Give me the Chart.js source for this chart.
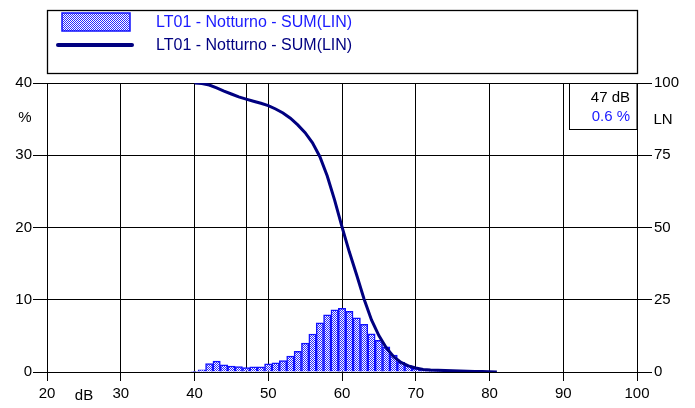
<!DOCTYPE html>
<html><head><meta charset="utf-8">
<script src="https://cdn.jsdelivr.net/npm/chart.js@4.4.0/dist/chart.umd.min.js"></script>
<style>html,body{margin:0;padding:0;background:#fff;overflow:hidden}#wrap{width:695px;height:408px;position:relative}</style>
</head><body><div id="wrap"><canvas id="c" width="695" height="408"></canvas></div>
<script>
// ---- data ----
const levelsDb = [40,41,42,43,44,45,46,47,48,49,50,51,52,53,54,55,56,57,58,59,60,61,62,63,64,65,66,67,68,69,70,71,72,73,74];
const distributionPct = [0.05,0.3,1.15,1.5,1.0,0.83,0.76,0.6,0.7,0.72,1.12,1.28,1.58,2.2,2.85,4.0,5.26,6.8,7.9,8.6,8.8,8.4,7.5,6.6,5.3,4.4,3.5,2.35,1.35,0.9,0.5,0.25,0.15,0.1,0.05];
const lnDb = [40,41,42,43,44,45,46,47,48,49,50,51,52,53,54,55,56,57,58,59,60,61,62,63,64,65,66,67,68,69,70,71,72,73,74,75,76,77,78,79,80,81];
const lnPct = [100,99.8,99.3,98.3,97.2,96.2,95.2,94.4,93.7,93.0,92.2,91.0,89.6,87.8,85.5,82.8,79.3,74.5,67.8,59.5,50.2,41.5,33.5,25.2,18.0,12.6,8.4,5.3,3.3,2.1,1.4,0.9,0.7,0.6,0.5,0.4,0.35,0.3,0.2,0.15,0.1,0];
const xTicks = [20,30,40,50,60,70,80,90,100];
const yTicks = [0,10,20,30,40];
const y2Ticks = [0,25,50,75,100];
const seriesLabel = 'LT01 - Notturno - SUM(LIN)';
const xUnit = 'dB', yUnit = '%', y2Unit = 'LN';
const cursorDb = 47;
const cursorPct = 0.6;

const FONT = 'Liberation Sans, Arial, sans-serif';
const canvas = document.getElementById('c');
const pc = document.createElement('canvas'); pc.width = 2; pc.height = 2;
const p = pc.getContext('2d');
p.fillStyle = '#ffffff'; p.fillRect(0,0,2,2);
p.fillStyle = '#2a2aff'; p.fillRect(0,0,1,1); p.fillRect(1,1,1,1);
const pattern = canvas.getContext('2d').createPattern(pc, 'repeat');

const decor = {
  id: 'decor',
  beforeDatasetsDraw(chart) {
    const c = chart.ctx, x = chart.scales.x, ca = chart.chartArea;
    const px = Math.round(x.getPixelForValue(cursorDb)) + 0.5;
    c.save(); c.strokeStyle = '#000'; c.lineWidth = 1;
    c.beginPath(); c.moveTo(px, ca.top); c.lineTo(px, ca.bottom); c.stroke();
    c.restore();
  },
  afterDraw(chart) {
    const c = chart.ctx, ca = chart.chartArea;
    c.save();
    // legend box
    c.strokeStyle = '#000'; c.lineWidth = 1.3;
    c.strokeRect(47.5, 10.5, 590, 63);
    c.fillStyle = pattern; c.fillRect(62, 13, 68, 18);
    c.strokeStyle = '#1010ff'; c.lineWidth = 1.5; c.strokeRect(62, 13, 68, 18);
    c.strokeStyle = '#000080'; c.lineWidth = 4; c.lineCap = 'round';
    c.beginPath(); c.moveTo(58, 45); c.lineTo(132, 45); c.stroke();
    c.font = '16px ' + FONT; c.textBaseline = 'alphabetic'; c.textAlign = 'left';
    c.fillStyle = '#1a1aff'; c.fillText(seriesLabel, 156, 27);
    c.fillStyle = '#000080'; c.fillText(seriesLabel, 156, 50);
    // unit labels
    c.font = '15px ' + FONT; c.fillStyle = '#000'; c.textAlign = 'center'; c.textBaseline = 'middle';
    c.fillText(yUnit, 25, 118);
    c.fillText(y2Unit, 663, 120);
    c.fillText(xUnit, 84, 396);
    // cursor info box
    c.fillStyle = '#fff'; c.fillRect(569.5, ca.top + 0.5, 67.5, 46);
    c.strokeStyle = '#000'; c.lineWidth = 1; c.strokeRect(569.5, ca.top + 0.5, 67.5, 46);
    c.textAlign = 'right'; c.textBaseline = 'alphabetic'; c.font = '15px ' + FONT;
    c.fillStyle = '#000'; c.fillText(cursorDb + ' dB', 630, 102);
    c.fillStyle = '#1a1aff'; c.fillText(cursorPct.toFixed(1) + ' %', 630, 121);
    c.restore();
  }
};

const tickFont = { family: FONT, size: 15 };
new Chart(canvas, {
  data: {
    datasets: [
      { type: 'bar', label: seriesLabel, data: levelsDb.map((v, i) => ({ x: v, y: distributionPct[i] })),
        backgroundColor: pattern, borderColor: '#1010ff', borderWidth: 1.5, borderSkipped: 'bottom',
        barPercentage: 1, categoryPercentage: 1, grouped: false, xAxisID: 'x', yAxisID: 'y', order: 2 },
      { type: 'line', label: seriesLabel, data: lnDb.map((v, i) => ({ x: v, y: lnPct[i] })),
        borderColor: '#000080', borderWidth: 3, pointRadius: 0, tension: 0, fill: false,
        xAxisID: 'x', yAxisID: 'y2', order: 1 }
    ]
  },
  options: {
    responsive: false, animation: false, devicePixelRatio: 1,
    layout: { padding: { top: 83, left: 0, right: 0, bottom: 0 } },
    plugins: { legend: { display: false }, tooltip: { enabled: false } },
    scales: {
      x: { type: 'linear', min: 20, max: 100, offset: false,
        afterBuildTicks: s => { s.ticks = xTicks.map(v => ({ value: v })); },
        ticks: { color: '#000', font: tickFont, padding: 4, maxRotation: 0, autoSkip: false },
        grid: { color: '#000', lineWidth: 1, tickLength: 9, offset: false },
        border: { color: '#000', width: 1 },
        afterFit: s => { s.height = 36; } },
      y: { type: 'linear', position: 'left', min: 0, max: 40,
        afterBuildTicks: s => { s.ticks = yTicks.map(v => ({ value: v })); },
        ticks: { color: '#000', font: tickFont, padding: 1 },
        grid: { color: '#000', lineWidth: 1, tickLength: 14 },
        border: { color: '#000', width: 1 },
        afterFit: s => { s.width = 47; } },
      y2: { type: 'linear', position: 'right', min: 0, max: 100,
        afterBuildTicks: s => { s.ticks = y2Ticks.map(v => ({ value: v })); },
        ticks: { color: '#000', font: tickFont, padding: 2 },
        grid: { drawOnChartArea: false, color: '#000', lineWidth: 1, tickLength: 15 },
        border: { color: '#000', width: 1 },
        afterFit: s => { s.width = 58; } }
    }
  },
  plugins: [decor]
});
</script></body></html>
